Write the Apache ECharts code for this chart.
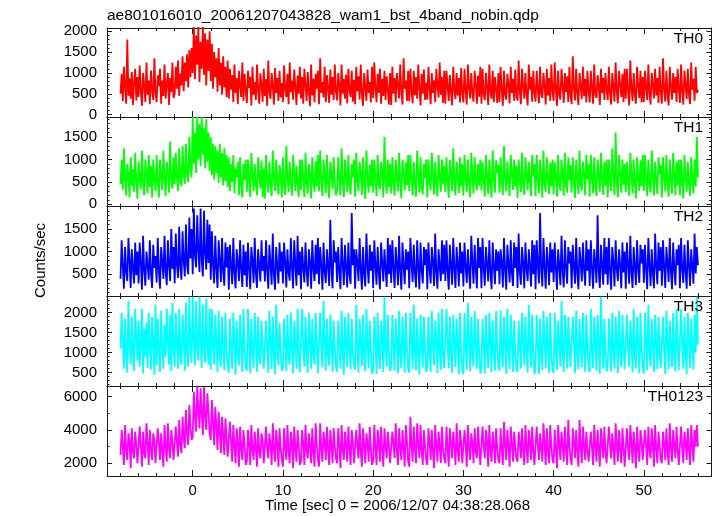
<!DOCTYPE html>
<html>
<head>
<meta charset="utf-8">
<script src="https://cdn.jsdelivr.net/npm/echarts@6/dist/echarts.min.js"></script>
<style>html,body{margin:0;padding:0;background:#fff;}#chart{width:717px;height:516px;}</style>
</head>
<body>
<div id="chart"></div>
<script>
// Light-curve bins: start time (s) and bin width (s)
const TIME_START = -8;
const BIN = 0.125;

const titleText = 'ae801016010_20061207043828_wam1_bst_4band_nobin.qdp';
const xAxisTitle = 'Time [sec] 0 = 2006/12/07 04:38:28.068';
const yAxisTitle = 'Counts/sec';
const bandNames = ['TH0', 'TH1', 'TH2', 'TH3', 'TH0123'];

const xMajorTicks = [0, 10, 20, 30, 40, 50];
const yMajorTicks = [
  [0, 500, 1000, 1500, 2000],
  [0, 500, 1000, 1500],
  [500, 1000, 1500],
  [500, 1000, 1500, 2000],
  [2000, 4000, 6000]
];

const th0 = [
500,980,320,1150,640,260,1800,450,870,380,1020,230,760,1100,340,900,
420,1180,560,210,1000,700,300,1250,480,820,250,1060,600,350,1350,520,
300,940,680,1100,260,820,450,1200,380,720,1000,230,880,540,1250,400,
500,1150,620,1300,450,980,700,1400,560,1250,800,1450,650,1550,900,1600,
1000,2100,850,1900,1200,2100,780,1750,1100,2100,950,1950,700,1800,1050,2000,
800,1700,620,1500,900,1350,550,1600,700,1250,480,1400,650,1150,420,1300,
380,1100,600,950,300,1200,520,880,250,1050,700,420,1250,330,980,560,
280,1050,640,900,220,1150,480,780,350,1200,600,260,990,720,310,1100,
450,850,210,1300,560,380,1000,690,240,1120,520,880,330,1050,410,760,
300,1180,620,420,980,250,1250,540,820,360,1080,680,230,940,500,1150,
380,900,260,1100,700,330,1020,560,200,1200,460,860,300,980,620,1050,
250,1350,520,780,410,1150,300,950,640,280,1080,480,900,350,1200,560,
340,1000,720,220,1200,500,860,380,960,270,1100,600,420,1050,310,830,
250,1150,560,920,360,1200,480,210,1000,680,330,1080,520,780,290,1150,
400,1250,640,300,980,520,1100,260,860,450,1050,350,920,600,240,1000,
230,1150,500,880,300,1000,700,390,1200,540,240,1350,620,820,330,1050,
320,1100,580,270,1050,460,900,380,1200,640,220,980,500,1080,350,760,
360,1150,620,250,1000,520,820,300,1100,700,410,1250,480,900,280,1050,
260,1050,700,330,950,540,220,1150,600,370,1000,460,880,290,1120,520,
290,1100,560,240,1200,640,390,1000,500,310,1050,720,260,940,430,1150,
260,1100,480,350,1000,660,230,1200,540,380,1050,300,900,620,280,1000,
300,1150,600,210,1050,470,360,980,720,270,1150,520,860,330,1080,450,
340,1300,560,250,1100,680,380,1000,480,220,1200,600,900,310,1050,520,
310,1050,620,270,1150,500,400,1000,700,240,1100,460,880,330,1200,560,
330,1250,600,210,1050,480,360,1100,720,280,1000,540,920,300,1150,450,
250,1400,620,340,1100,500,230,1000,680,370,1150,440,860,290,1050,560,
290,1050,640,260,1200,480,400,950,700,230,1100,520,880,350,1000,600,
350,1150,500,240,1000,660,310,1250,560,270,1050,720,420,980,300,1100,
380,1100,560,220,1300,620,330,1000,480,260,1150,700,400,1050,290,900,
300,1050,640,350,1200,500,240,1000,720,390,1100,460,880,280,1150,540,
260,1350,600,310,1050,480,220,1150,680,360,1000,520,900,300,1100,620,
280,1200,560,240,1050,700,370,1100,480,250,1250,600,860,330,1150,520,
600
];

const th1 = [
450,1000,320,1250,560,200,900,640,150,1050,420,780,280,1150,500,120,
950,600,330,1200,450,200,1000,700,250,1100,380,860,150,1000,520,300,
1100,480,150,1000,640,320,1200,560,180,950,700,260,1400,500,350,1050,
450,1150,600,300,1250,520,400,1300,700,450,1350,650,500,1500,800,600,
1950,900,1600,700,1950,1000,1800,850,1950,1100,1700,800,1900,950,1600,750,
1500,650,1350,550,1300,700,1200,480,1350,600,1150,420,1250,520,1100,380,
1050,300,900,500,1100,250,800,600,950,200,1050,420,150,900,550,1000,
280,1000,520,170,1150,640,300,900,450,200,1050,700,350,980,160,800,
130,1100,560,260,950,420,180,1200,620,300,1000,480,220,880,650,150,
1050,400,210,1300,600,270,950,500,190,1100,720,300,860,440,160,1000,
320,1000,580,160,1150,460,240,900,680,130,1050,520,280,960,400,1100,
290,1200,500,180,1000,640,250,1100,420,140,950,700,330,1050,460,200,
310,1050,560,200,1250,480,160,1000,660,280,1100,420,220,900,600,1000,
170,1150,520,300,950,700,210,1050,450,120,1200,580,260,880,400,1000,
260,1000,600,180,1100,440,330,950,680,150,1500,520,240,1000,380,900,
240,1050,480,190,1000,620,290,1150,500,130,1000,700,310,940,420,1100,
300,1100,560,200,950,460,170,1200,640,260,1050,380,220,900,580,1000,
150,1000,500,310,1150,680,220,950,420,180,1100,600,280,1000,460,860,
270,1050,540,140,1000,700,300,1250,480,200,950,620,250,1050,400,900,
190,1100,580,280,1000,460,160,1150,660,240,1050,500,310,900,420,1000,
310,950,520,170,1100,640,230,1000,440,150,1200,580,260,980,700,880,
260,1050,480,200,1300,600,290,950,520,180,1100,680,320,1000,400,860,
140,1000,560,270,1150,440,210,1050,700,320,950,500,180,1100,620,900,
180,1100,520,250,1000,660,150,1200,460,280,1050,580,230,940,400,1000,
220,950,600,170,1100,480,300,1000,680,190,1150,420,260,1050,540,880,
260,1050,500,140,1000,620,230,1200,440,310,950,700,200,1100,560,900,
170,1100,580,250,1050,460,190,1000,640,280,1150,520,210,950,420,1000,
150,1000,540,300,1250,600,210,1600,480,160,1100,660,260,1000,440,900,
270,950,520,190,1150,700,240,1000,460,130,1050,580,300,980,400,1100,
300,1100,560,180,1000,440,260,1200,620,200,950,500,230,1050,680,880,
150,1050,600,290,1100,480,170,1000,540,240,1150,660,200,950,420,1000,
200,1000,520,130,1100,640,280,950,460,190,1050,580,240,1000,400,1500,
600
];

const th2 = [
400,1250,700,180,1100,560,350,1300,820,200,1050,640,300,1200,480,1000,
300,1200,760,160,1350,580,250,1000,700,380,1250,520,200,1150,640,900,
320,1300,600,180,1100,780,400,1350,560,260,1250,700,350,1500,620,1100,
300,1400,720,420,1550,650,380,1450,800,450,1600,700,500,1750,850,1500,
500,1950,900,650,1800,1000,550,1950,800,450,1900,950,600,1700,750,1600,
380,1450,700,300,1350,620,200,1250,800,330,1300,560,250,1200,650,1100,
160,1150,700,280,1300,540,190,1050,760,350,1250,600,220,1150,480,1000,
220,1200,640,170,1100,780,310,1300,520,200,1050,700,340,1250,580,900,
340,1250,600,180,1150,720,270,1400,500,160,1100,680,300,1200,560,1000,
300,1200,780,210,1050,540,360,1300,640,190,1250,720,250,1350,480,1000,
170,1100,660,320,1200,580,230,1050,760,180,1250,620,350,1150,500,1300,
280,1100,700,160,1200,540,310,1050,680,240,1700,600,190,1250,760,1000,
330,1100,560,170,1300,720,260,1150,640,210,1200,500,290,1850,700,1050,
180,1050,760,350,1300,600,160,1100,520,230,1400,680,300,1150,580,1000,
190,1250,700,270,1100,540,170,1200,760,340,1050,620,220,1300,500,1150,
310,1250,640,200,1100,720,260,1350,560,160,1200,680,280,1050,600,1000,
190,1300,740,330,1150,520,210,1250,660,170,1200,580,300,1100,700,1050,
170,1200,620,300,1100,760,240,1400,540,180,1050,680,350,1250,500,1150,
350,1250,580,160,1150,700,270,1300,620,200,1100,740,230,1200,520,1000,
230,1200,680,310,1050,560,180,1350,760,290,1150,600,190,1300,640,1100,
190,1300,620,250,1100,720,340,1250,540,170,1200,680,280,1050,580,1000,
280,1050,760,210,1300,600,160,1150,700,320,1250,520,240,1200,640,1100,
200,1400,560,270,1100,740,190,1200,620,350,1050,680,230,1250,500,1150,
170,1250,700,300,1850,580,230,1300,660,180,1100,760,260,1200,540,1050,
330,1200,620,160,1050,700,260,1350,560,210,1250,640,290,1100,740,1000,
190,1150,680,290,1300,520,170,1100,760,340,1200,600,250,1250,580,1050,
240,1250,640,180,1050,720,310,1800,560,200,1150,680,270,1300,500,1100,
270,1300,580,160,1100,760,230,1250,620,350,1050,700,190,1200,540,1000,
180,1200,700,290,1350,560,200,1100,660,260,1250,620,310,1150,740,1050,
310,1150,600,170,1300,720,240,1050,540,190,1400,680,280,1200,580,1100,
250,1250,660,200,1100,740,330,1300,580,170,1200,620,260,1050,700,1150,
190,1300,620,310,1150,560,180,1250,700,240,1050,660,290,1400,520,1100,
700
];

const th3 = [
1100,2000,1300,600,1850,900,500,2300,1200,700,1900,1000,550,2100,1400,800,
1800,650,1250,2100,480,1600,900,1750,620,2000,1100,580,1900,1300,450,2200,
680,1850,1000,520,2050,1200,600,1700,900,2100,1300,700,1950,550,2250,1100,
650,2000,1250,600,2100,900,700,1950,1400,550,2250,1000,650,2400,1200,750,
2400,1300,680,2300,1100,800,2400,1400,620,2200,1000,750,2350,1200,700,2100,
580,2100,1150,700,1950,1300,520,2050,900,640,1900,1250,560,2000,1000,700,
500,1850,1100,600,2000,1300,450,1800,950,680,1950,1200,520,2100,1000,650,
550,2100,1250,480,1850,1000,620,2000,1350,520,1900,900,700,1800,1150,600,
650,1800,1100,500,2050,1300,590,1900,950,460,2200,1200,680,1750,1000,550,
620,1850,1250,540,1950,900,700,2000,1100,480,1800,1300,600,2100,1000,520,
560,2100,1150,650,1900,1000,500,2000,1350,600,1850,950,700,2000,1200,480,
470,2000,1100,630,2300,1250,550,1850,900,680,1950,1300,520,1800,1050,640,
520,1800,1200,600,2050,950,450,1900,1300,640,2000,1100,580,1850,1000,700,
580,2200,1100,500,1850,1300,660,1950,900,530,2100,1200,610,1800,1050,470,
610,1900,1250,470,2000,1000,590,1800,1350,520,2400,1100,650,1950,950,540,
650,1950,1150,540,1850,1300,480,2050,1000,620,1900,1200,500,2000,1100,600,
500,2000,1300,600,2200,1050,560,1850,950,450,1950,1250,630,1900,1100,520,
630,1900,1000,520,2050,1200,680,1800,1350,490,2000,1100,570,2100,950,610,
570,2100,1250,610,1900,1000,500,1950,1300,640,1850,1150,460,2000,1050,580,
460,2000,1100,580,2250,1300,530,1900,950,660,2050,1200,600,1850,1000,480,
600,1850,1200,480,1950,1050,620,2000,1300,510,1800,1000,550,2050,1150,640,
550,2050,1000,640,1900,1250,470,2100,1100,590,1950,1300,520,1800,950,600,
520,1800,1150,600,2000,1300,680,1900,1000,500,2200,1200,630,1950,1050,460,
630,1950,1250,460,1850,1000,570,2050,1300,610,1900,1100,490,2000,950,560,
490,2000,1100,560,1800,1250,650,2300,1000,520,1950,1300,600,1900,1150,640,
600,1900,1300,480,2050,1000,580,1850,1200,640,2000,1050,510,1950,1100,620,
510,2100,1000,620,1900,1250,550,1950,1150,470,2400,1300,600,1850,950,530,
660,1850,1200,530,2000,1050,600,1900,1300,490,2050,1000,640,1950,1100,580,
570,1950,1100,640,1800,1300,510,2100,950,600,1900,1250,480,2000,1050,650,
480,2000,1250,560,2200,1000,650,1850,1150,520,1950,1300,590,1900,1000,610,
610,1900,1050,470,2050,1300,580,1800,1100,640,2000,950,530,2100,1200,560,
530,2100,1200,590,1900,1000,460,2000,1300,620,1850,1100,580,1950,1000,2400,
1200
];

const th0123 = [
2500,4000,3100,1900,4300,2800,2200,3800,3300,1700,4100,2700,2300,3900,3100,2000,
2100,4200,3000,1800,3900,2600,2300,4400,3200,1900,4000,2800,2200,3800,3400,2000,
2000,4100,3200,2200,3800,2700,1800,4300,3000,2100,4400,2900,2300,4000,3300,2200,
2300,4200,3300,2400,4600,3100,2600,4800,3500,2900,5200,3800,3100,5500,4200,3400,
3600,6300,4800,3900,6600,5200,4100,6500,5000,3700,6600,4800,4000,6200,5100,3800,
3400,5800,4500,3100,5400,4200,2800,5100,3900,2600,4800,3700,2500,4700,3500,2400,
2400,4500,3300,2100,4300,3000,2000,4100,3200,1800,4200,2900,2200,4000,3100,1900,
2100,4000,3200,1900,4300,2800,2200,3900,3000,1800,4100,2700,2300,3800,3300,2000,
2000,4200,2900,2300,3800,3100,1900,4400,2800,2100,4000,3200,1800,4100,2900,2200,
1800,4100,3000,2200,4300,2700,2000,3900,3300,1700,4200,2900,2100,4000,3100,1900,
2100,4000,3200,1900,4300,2800,2300,3800,3000,2000,4100,2700,1800,4400,3100,2200,
1800,4400,2900,2100,3900,3300,2200,4200,2800,1900,4000,3100,2000,4100,3000,2300,
2000,4100,3100,1700,4300,2800,2200,3900,3200,2100,4200,2900,1900,4000,3300,2000,
1900,4000,3000,2300,4400,2700,1800,4100,3100,2000,3800,3200,2100,4200,2800,1900,
2200,4300,2900,1900,4000,3300,2100,4200,2800,1800,4100,3000,2300,3900,3100,2000,
2000,3900,3200,2300,4400,2800,1900,4100,3000,2200,4000,2900,1800,4300,3300,2100,
1800,4800,3100,2100,4200,2900,2000,4400,3200,2300,4300,2800,1900,4000,3000,2200,
1900,4100,3300,2200,4000,2700,1700,4300,3100,2100,3900,3000,2000,4200,2800,2300,
2000,4200,2900,1800,4100,3200,2300,3900,3000,1900,4400,2800,2100,4000,3300,2000,
2100,4000,3100,1800,4300,2900,2200,3800,3200,2000,4100,2700,2300,4200,3000,1900,
1900,4200,3000,2300,4000,3300,1800,4300,2800,2100,3900,3100,2000,4100,2900,2200,
2000,4100,2800,1900,4500,3100,2200,4000,3000,1800,4200,3200,2100,3900,2900,2300,
2100,3900,3200,2300,4100,2800,1900,4300,3000,2000,4000,3300,2200,4200,2700,1900,
1800,4200,3100,2200,3800,2900,2100,4400,3200,1900,4100,2800,2000,4300,3000,2200,
2000,4000,2900,1700,4300,3200,2200,3900,3100,2100,4200,2800,1900,4600,3000,2300,
1900,4100,3300,2300,4000,2700,1800,4600,3000,2000,4200,3100,2200,3900,2800,2100,
2200,3900,3000,1900,4300,3100,2100,4000,2900,1800,4100,3200,2300,4200,2700,2000,
2000,4200,3100,2300,3800,2900,1900,4400,3200,2100,4000,2800,2000,4100,3000,1800,
1800,4100,2900,2200,4300,3200,2000,3900,3000,1700,4200,2800,2100,4000,3300,2200,
2100,4000,3000,1900,4200,2800,2300,4100,3200,1800,4300,2900,2000,3900,3100,2200,
2000,3900,3200,2200,4100,2700,1900,4400,3000,2100,4000,3100,2300,4200,2800,1900,
1800,4200,3000,2000,3900,3300,2200,4100,2900,1900,4300,3100,2100,4000,3000,4300,
3000
];

const bandValues = [th0, th1, th2, th3, th0123];
const bandColors = ['#ff0000', '#00ff00', '#0000ff', '#00ffff', '#ff00ff'];

// Layout (pixels)
const PLOT_LEFT = 107, PLOT_RIGHT = 5.5;
const panelTops = [28, 117, 206.5, 296, 386];
const panelHeights = [89, 89.5, 89.5, 90, 90];
const panelRanges = [[-58, 2079], [-49, 1949], [21, 1995], [167, 2417], [1237, 6643]];
const minorSteps = [100, 100, 100, 100, 1000];
const majorSteps = [500, 500, 500, 500, 2000];
const X_MIN = -9.5, X_MAX = 57.5;

function stepValues(lo, hi, step) {
  const out = [];
  for (let v = Math.ceil(lo / step) * step; v <= hi + 1e-9; v += step) out.push(Math.round(v * 1000) / 1000);
  return out;
}
const xMinorTicks = stepValues(X_MIN, X_MAX, 2);

const FONT = '"Liberation Sans", Arial, Helvetica, sans-serif';
const AXIS_COLOR = '#1a1a1a';

const grids = [], xAxes = [], yAxes = [], series = [], graphics = [];

for (let k = 0; k < 2; k++) {
  for (let p = 0; p < 5; p++) {
    grids.push({ left: PLOT_LEFT, right: PLOT_RIGHT, top: panelTops[p], height: panelHeights[p] });
  }
}

const plainFormatter = (v) => String(v);

function xAxisDef(gridIndex, position, ticks, len, showLine, showLabels) {
  return {
    type: 'value', gridIndex, position, min: X_MIN, max: X_MAX,
    axisLine: { show: showLine, onZero: false, lineStyle: { color: AXIS_COLOR, width: 1 } },
    axisTick: { show: true, inside: true, length: len, customValues: ticks, lineStyle: { color: AXIS_COLOR, width: 1 } },
    axisLabel: { show: showLabels, customValues: xMajorTicks, formatter: plainFormatter, margin: 7, color: '#000', fontSize: 15, fontFamily: FONT },
    splitLine: { show: false }
  };
}
function yAxisDef(gridIndex, position, p, ticks, len, showLine, showLabels) {
  return {
    type: 'value', gridIndex, position, min: panelRanges[p][0], max: panelRanges[p][1],
    axisLine: { show: showLine, onZero: false, lineStyle: { color: AXIS_COLOR, width: 1 } },
    axisTick: { show: true, inside: true, length: len, customValues: ticks, lineStyle: { color: AXIS_COLOR, width: 1 } },
    axisLabel: { show: showLabels, customValues: yMajorTicks[p], formatter: plainFormatter, margin: 10, color: '#000', fontSize: 15, fontFamily: FONT },
    splitLine: { show: false }
  };
}

// data grids: major ticks, axis lines and labels
for (let p = 0; p < 5; p++) {
  xAxes.push(xAxisDef(p, 'bottom', xMajorTicks, 6, true, p === 4));
  xAxes.push(xAxisDef(p, 'top', xMajorTicks, 6, true, false));
  const yMaj = stepValues(panelRanges[p][0], panelRanges[p][1], majorSteps[p]);
  yAxes.push(yAxisDef(p, 'left', p, yMaj, 5, true, true));
  yAxes.push(yAxisDef(p, 'right', p, yMaj, 5, true, false));
}
// overlay grids: minor ticks only
for (let p = 0; p < 5; p++) {
  const g = 5 + p;
  xAxes.push(xAxisDef(g, 'bottom', xMinorTicks, 3, false, false));
  xAxes.push(xAxisDef(g, 'top', xMinorTicks, 3, false, false));
  const yMin = stepValues(panelRanges[p][0], panelRanges[p][1], minorSteps[p]);
  yAxes.push(yAxisDef(g, 'left', p, yMin, 2.5, false, false));
  yAxes.push(yAxisDef(g, 'right', p, yMin, 2.5, false, false));
}

for (let p = 0; p < 5; p++) {
  series.push({
    type: 'line', name: bandNames[p],
    xAxisIndex: 2 * p, yAxisIndex: 2 * p,
    data: bandValues[p].map((v, i) => [TIME_START + i * BIN, v]),
    showSymbol: false, symbol: 'none', clip: true, silent: true,
    lineStyle: { color: bandColors[p], width: 1.8, join: 'bevel' },
    itemStyle: { color: bandColors[p] },
    z: 1
  });
  graphics.push({
    type: 'text', x: 703, y: panelTops[p] + 10.5, z: 10,
    style: { text: bandNames[p], font: '15.5px ' + FONT, fill: '#000', textAlign: 'right', textVerticalAlign: 'middle' }
  });
}

graphics.push({
  type: 'text', x: 107, y: 16,
  style: { text: titleText, font: '15.5px ' + FONT, fill: '#000', textAlign: 'left', textVerticalAlign: 'middle' }
});
graphics.push({
  type: 'text', x: 397.5, y: 506,
  style: { text: xAxisTitle, font: '15px ' + FONT, fill: '#000', textAlign: 'center', textVerticalAlign: 'middle' }
});
graphics.push({
  type: 'text', x: 41, y: 260.5, rotation: Math.PI / 2,
  style: { text: yAxisTitle, font: '15px ' + FONT, fill: '#000', textAlign: 'center', textVerticalAlign: 'middle' }
});

const chart = echarts.init(document.getElementById('chart'), null, { renderer: 'canvas' });
chart.setOption({
  animation: false,
  backgroundColor: '#ffffff',
  grid: grids,
  xAxis: xAxes,
  yAxis: yAxes,
  series: series,
  graphic: graphics
});
</script>
</body>
</html>
